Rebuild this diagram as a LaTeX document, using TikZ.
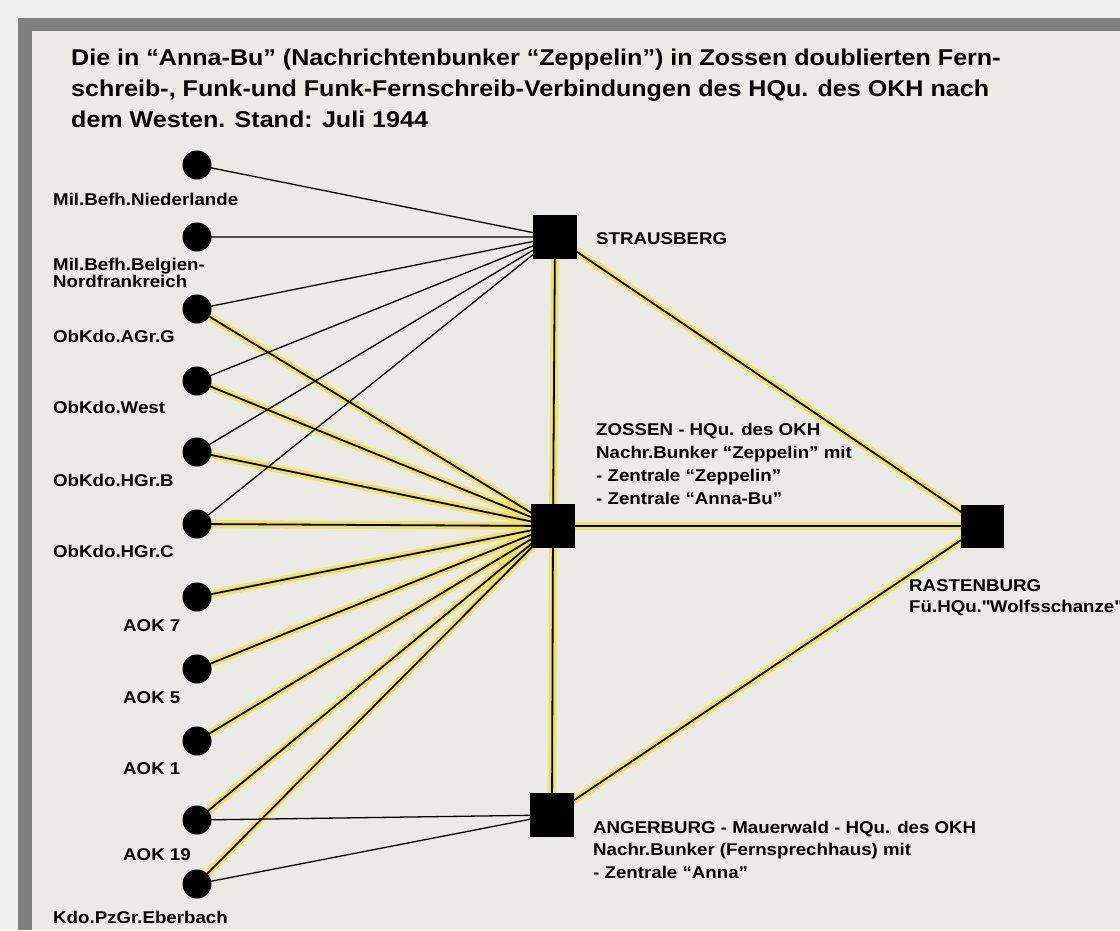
\documentclass[tikz,border=0pt]{standalone}
\usepackage{fontspec}
\setmainfont{Liberation Sans}[FakeStretch=1.1]
\usetikzlibrary{positioning}
\definecolor{outerGrey}{RGB}{240,240,240}
\definecolor{frameGrey}{RGB}{127,127,127}
\definecolor{paperGrey}{RGB}{235,234,230}
\definecolor{markerYellow}{RGB}{240,228,95}
\pgfdeclarelayer{paper}
\pgfdeclarelayer{wires}
\pgfsetlayers{paper,wires,main}

\begin{document}
\begin{tikzpicture}[x=1pt,y=-1pt,
  stn/.style={circle,fill=black,inner sep=0pt,minimum size=29pt},
  hq/.style={rectangle,fill=black,inner sep=0pt,minimum size=44pt},
  lbl/.style={anchor=base west,inner sep=0pt,align=left,font=\fontsize{17}{22.5}\selectfont\bfseries},
  wire/.style={black,line width=1.3pt},
  trunk/.style={black,line width=1.8pt},
  glow/.style={markerYellow,line width=8pt}
]
  \useasboundingbox (0,0) rectangle (1120,930);
  \begin{pgfonlayer}{paper}
    \fill[outerGrey] (0,0) rectangle (1120,930);
    \fill[frameGrey] (18,18) rectangle (1120,930);
    \fill[paperGrey] (32,31) rectangle (1120,930);
  \end{pgfonlayer}

  % title (base = last line)
  \node[anchor=base west,inner sep=0pt,align=left,font=\fontsize{22.8}{31}\selectfont\bfseries] (title) at (71,127)
    {Die in “Anna-Bu” (Nachrichtenbunker “Zeppelin”) in Zossen doublierten Fern-\\
     schreib-, Funk-und Funk-Fernschreib-Verbindungen des HQu. des OKH nach\\
     dem Westen. Stand: Juli 1944};

  % stations in the west
  \node[stn] (niederl) at (197,165) {};
  \node[stn] (belgien) at (197,237) {};
  \node[stn] (agrg) at (197,309) {};
  \node[stn] (west) at (197,381) {};
  \node[stn] (hgrb) at (197,452) {};
  \node[stn] (hgrc) at (197,524) {};
  \node[stn] (aok7) at (197,597) {};
  \node[stn] (aok5) at (197,669) {};
  \node[stn] (aok1) at (197,741) {};
  \node[stn] (aok19) at (197,820) {};
  \node[stn] (eberb) at (197,884) {};

  \node[lbl] (lniederl) at (53,205) {Mil.Befh.Niederlande};
  \node[lbl,font=\fontsize{17}{17}\selectfont\bfseries] (lbelgien) at (53,287) {Mil.Befh.Belgien-\\Nordfrankreich};
  \node[lbl] (lagrg) at (53,342) {ObKdo.AGr.G};
  \node[lbl] (lwest) at (53,413) {ObKdo.West};
  \node[lbl] (lhgrb) at (53,486) {ObKdo.HGr.B};
  \node[lbl] (lhgrc) at (53,557) {ObKdo.HGr.C};
  \node[lbl] (laok7) at (123,631) {AOK 7};
  \node[lbl] (laok5) at (123,703) {AOK 5};
  \node[lbl] (laok1) at (123,774) {AOK 1};
  \node[lbl] (laok19) at (123,860) {AOK 19};
  \node[lbl] (leberb) at (53,923) {Kdo.PzGr.Eberbach};

  % headquarters
  \node[hq] (str) at (555,237) {};
  \node[hq] (zos) at (553,526) {};
  \node[hq] (ang) at (552,815) {};
  \node[hq,minimum size=43pt] (ras) at (982,526) {};

  \node[lbl] (lstr) at (596,244) {STRAUSBERG};
  \node[lbl,font=\fontsize{17}{23}\selectfont\bfseries] (lzos) at (596,504) {ZOSSEN - HQu. des OKH\\Nachr.Bunker “Zeppelin” mit\\- Zentrale “Zeppelin”\\- Zentrale “Anna-Bu”};
  \node[lbl] (lang) at (593,878) {ANGERBURG - Mauerwald - HQu. des OKH\\Nachr.Bunker (Fernsprechhaus) mit\\- Zentrale “Anna”};
  \node[lbl,font=\fontsize{17}{21}\selectfont\bfseries] (lras) at (909,612) {RASTENBURG\\Fü.HQu.\textquotedbl Wolfsschanze\textquotedbl};

  \begin{pgfonlayer}{wires}
    % doubled connections (marked)
    \draw[glow] (agrg.center) -- (zos.center) (west.center) -- (zos.center)
      (hgrb.center) -- (zos.center) (hgrc.center) -- (zos.center)
      (aok7.center) -- (zos.center) (aok5.center) -- (zos.center)
      (aok1.center) -- (zos.center) (aok19.center) -- (zos.center)
      (eberb.center) -- (zos.center)
      (str.center) -- (zos.center) (zos.center) -- (ang.center)
      (str.center) -- (ras.center) (zos.center) -- (ras.center)
      (ang.center) -- (ras.center);
    \draw[trunk] (agrg.center) -- (zos.center) (west.center) -- (zos.center)
      (hgrb.center) -- (zos.center) (hgrc.center) -- (zos.center)
      (aok7.center) -- (zos.center) (aok5.center) -- (zos.center)
      (aok1.center) -- (zos.center) (aok19.center) -- (zos.center)
      (eberb.center) -- (zos.center)
      (str.center) -- (zos.center) (zos.center) -- (ang.center)
      (str.center) -- (ras.center) (zos.center) -- (ras.center)
      (ang.center) -- (ras.center);
    % plain connections
    \draw[wire] (niederl.center) -- (str.center) (belgien.center) -- (str.center)
      (agrg.center) -- (str.center) (west.center) -- (str.center)
      (hgrb.center) -- (str.center) (hgrc.center) -- (str.center);
    \draw[wire] (aok19.center) -- (ang.center) (eberb.center) -- (ang.center);
  \end{pgfonlayer}
\end{tikzpicture}
\end{document}
